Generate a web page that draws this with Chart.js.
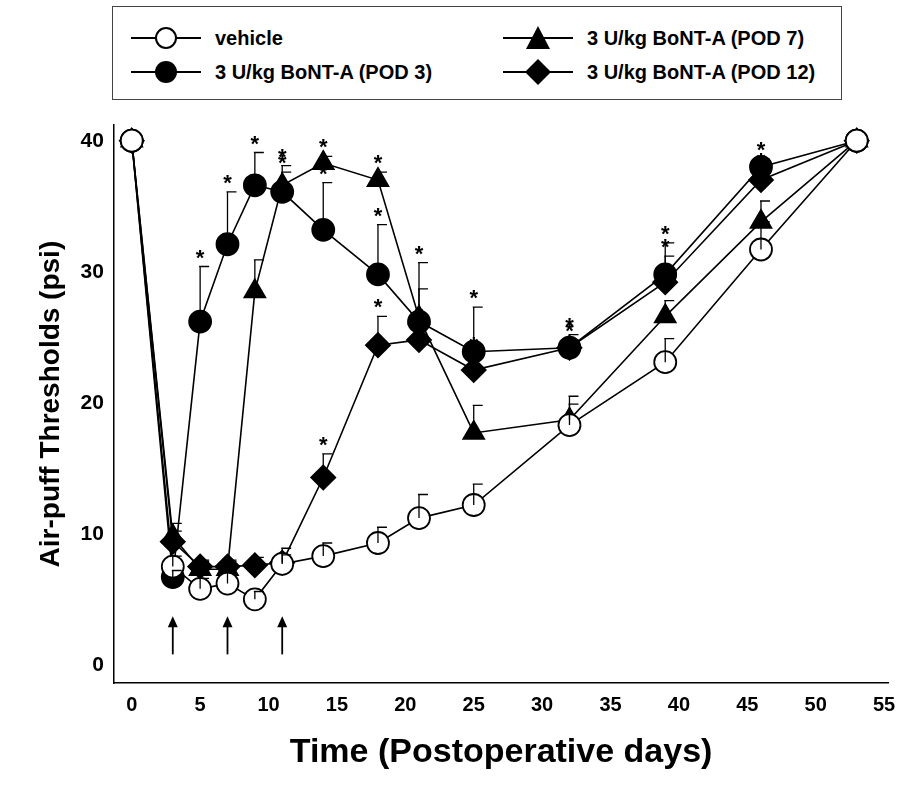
<!DOCTYPE html>
<html><head><meta charset="utf-8">
<script src="https://cdn.jsdelivr.net/npm/chart.js@4"></script>
<style>
body{margin:0;background:#fff;font-family:"Liberation Sans",Arial,sans-serif}
#wrap{position:relative;width:902px;height:785px}
#leg{position:absolute;left:112px;top:6px;width:728px;height:92px;border:1.5px solid #444;background:#fff;font-weight:bold;font-size:20px}
.it{position:absolute;display:flex;align-items:center}
</style></head><body>
<div id="wrap"><canvas id="c" width="902" height="785"></canvas>
<div id="leg">
<div class="it" style="left:18px;top:18px"><svg width="70" height="26"><line x1="0" y1="13" x2="70" y2="13" stroke="#000" stroke-width="2"/><circle cx="35" cy="13" r="10" fill="#fff" stroke="#000" stroke-width="2"/></svg><span style="margin-left:14px">vehicle</span></div>
<div class="it" style="left:18px;top:52px"><svg width="70" height="26"><line x1="0" y1="13" x2="70" y2="13" stroke="#000" stroke-width="2"/><circle cx="35" cy="13" r="11" fill="#000"/></svg><span style="margin-left:14px">3 U/kg BoNT-A (POD 3)</span></div>
<div class="it" style="left:390px;top:18px"><svg width="70" height="26"><line x1="0" y1="13" x2="70" y2="13" stroke="#000" stroke-width="2"/><polygon points="35,1 47,24 23,24" fill="#000"/></svg><span style="margin-left:14px">3 U/kg BoNT-A (POD 7)</span></div>
<div class="it" style="left:390px;top:52px"><svg width="70" height="26"><line x1="0" y1="13" x2="70" y2="13" stroke="#000" stroke-width="2"/><polygon points="35,0 48,13 35,26 22,13" fill="#000"/></svg><span style="margin-left:14px">3 U/kg BoNT-A (POD 12)</span></div>
</div></div>
<script>
const days=[0,3,5,7,9,11,14,18,21,25,32,39,46,53];
const vehicle=[40,7.5,5.8,6.2,5.0,7.7,8.3,9.3,11.2,12.2,18.3,23.1,31.7,40];
const vehicleErr=[0,0.8,0.8,1.0,0.6,1.2,1.0,1.2,1.8,1.6,1.6,1.8,2.1,0];
const pod3=[40,6.7,26.2,32.1,36.6,36.1,33.2,29.8,26.2,23.9,24.2,29.8,38.0,40];
const pod3Err=[0,0.5,4.2,4.0,2.5,1.5,3.6,3.8,2.5,3.4,0.6,2.4,0.6,0];
const pod7=[40,9.8,7.3,7.3,28.5,36.6,38.3,37.0,26.5,17.7,18.7,26.6,33.8,40];
const pod7Err=[0,1.0,0.6,0.6,2.4,1.5,0.5,0.6,4.2,2.1,1.8,1.2,1.6,0];
const pod12=[40,9.4,7.5,7.5,7.6,7.8,14.3,24.4,24.8,22.5,24.2,29.2,37.0,40];
const pod12Err=[0,0.8,0.5,0.5,0.6,0.6,1.8,2.2,1.2,1.2,1.0,2.0,0.8,0];
const pod3Star=[0,0,1,1,1,1,1,1,0,1,1,1,1,0];
const pod7Star=[0,0,0,0,0,1,1,1,1,0,0,0,0,0];
const pod12Star=[0,0,0,0,0,0,1,1,1,1,1,1,1,0];
const arrowDays=[3,7,11];
const xTicks=[0,5,10,15,20,25,30,35,40,45,50,55];

const mk=(d)=>d.map((v,i)=>({x:days[i],y:v}));
const ds=(label,data,err,star,style,fill,r)=>({label,data:mk(data),err,star,pointStyle:style,pointRadius:r,pointBackgroundColor:fill,pointBorderColor:'#000',pointBorderWidth:1.8,borderColor:'#000',borderWidth:1.6,showLine:true});
const extra={id:'extra',afterDatasetsDraw(ch){
 const c=ch.ctx,xs=ch.scales.x,ys=ch.scales.y;
 c.save();c.strokeStyle='#000';c.fillStyle='#000';c.lineWidth=1.3;
 ch.data.datasets.forEach(d=>{d.data.forEach((p,i)=>{const e=d.err[i];if(!e)return;const x=xs.getPixelForValue(p.x),y0=ys.getPixelForValue(p.y),y1=ys.getPixelForValue(p.y+e);
  c.beginPath();c.moveTo(x,y0);c.lineTo(x,y1);c.moveTo(x-1,y1);c.lineTo(x+9,y1);c.stroke();});});
 c.font='bold 22px "Liberation Sans"';c.textAlign='center';
 ch.data.datasets.forEach(d=>{d.data.forEach((p,i)=>{if(!d.star[i])return;const x=xs.getPixelForValue(p.x),y=ys.getPixelForValue(p.y+d.err[i]);c.fillText('*',x,y-2);});});
 arrowDays.forEach(a=>{const x=xs.getPixelForValue(a);c.lineWidth=1.8;c.beginPath();c.moveTo(x,ys.getPixelForValue(0.8));c.lineTo(x,ys.getPixelForValue(3.3));c.stroke();
  const t=ys.getPixelForValue(3.7);c.beginPath();c.moveTo(x,t);c.lineTo(x-5,t+11);c.lineTo(x+5,t+11);c.closePath();c.fill();});
 c.restore();}};
new Chart(document.getElementById('c'),{type:'scatter',
 data:{datasets:[
  ds('vehicle',vehicle,vehicleErr,days.map(()=>0),'circle','#fff',11),
  ds('POD 7',pod7,pod7Err,pod7Star,'triangle','#000',12),
  ds('POD 12',pod12,pod12Err,pod12Star,'rectRot','#000',12),
  ds('POD 3',pod3,pod3Err,pod3Star,'circle','#000',11)]},
 options:{responsive:false,animation:false,layout:{padding:{top:125,right:10,left:30,bottom:8}},
  plugins:{legend:{display:false},tooltip:{enabled:false}},
  scales:{
   x:{min:-1.3,max:55.3,grid:{display:false,drawTicks:true,tickLength:7,tickColor:'#000'},border:{color:'#000',width:1.5},
    afterBuildTicks(a){a.ticks=xTicks.map(v=>({value:v}));},
    ticks:{color:'#000',font:{size:20,weight:'bold',family:'Liberation Sans'},autoSkip:false,maxRotation:0},
    title:{display:true,text:'Time (Postoperative days)',color:'#000',font:{size:34,weight:'bold',family:'Liberation Sans'},padding:{top:12}}},
   y:{min:-1.4,max:41.2,grid:{display:false,drawTicks:true,tickLength:7,tickColor:'#000'},border:{color:'#000',width:1.5},
    afterBuildTicks(a){a.ticks=[0,10,20,30,40].map(v=>({value:v}));},
    ticks:{color:'#000',font:{size:21,weight:'bold',family:'Liberation Sans'}},
    title:{display:true,text:'Air-puff Thresholds (psi)',color:'#000',font:{size:28,weight:'bold',family:'Liberation Sans'},padding:{bottom:10}}}}},
 plugins:[extra]});
</script></body></html>
